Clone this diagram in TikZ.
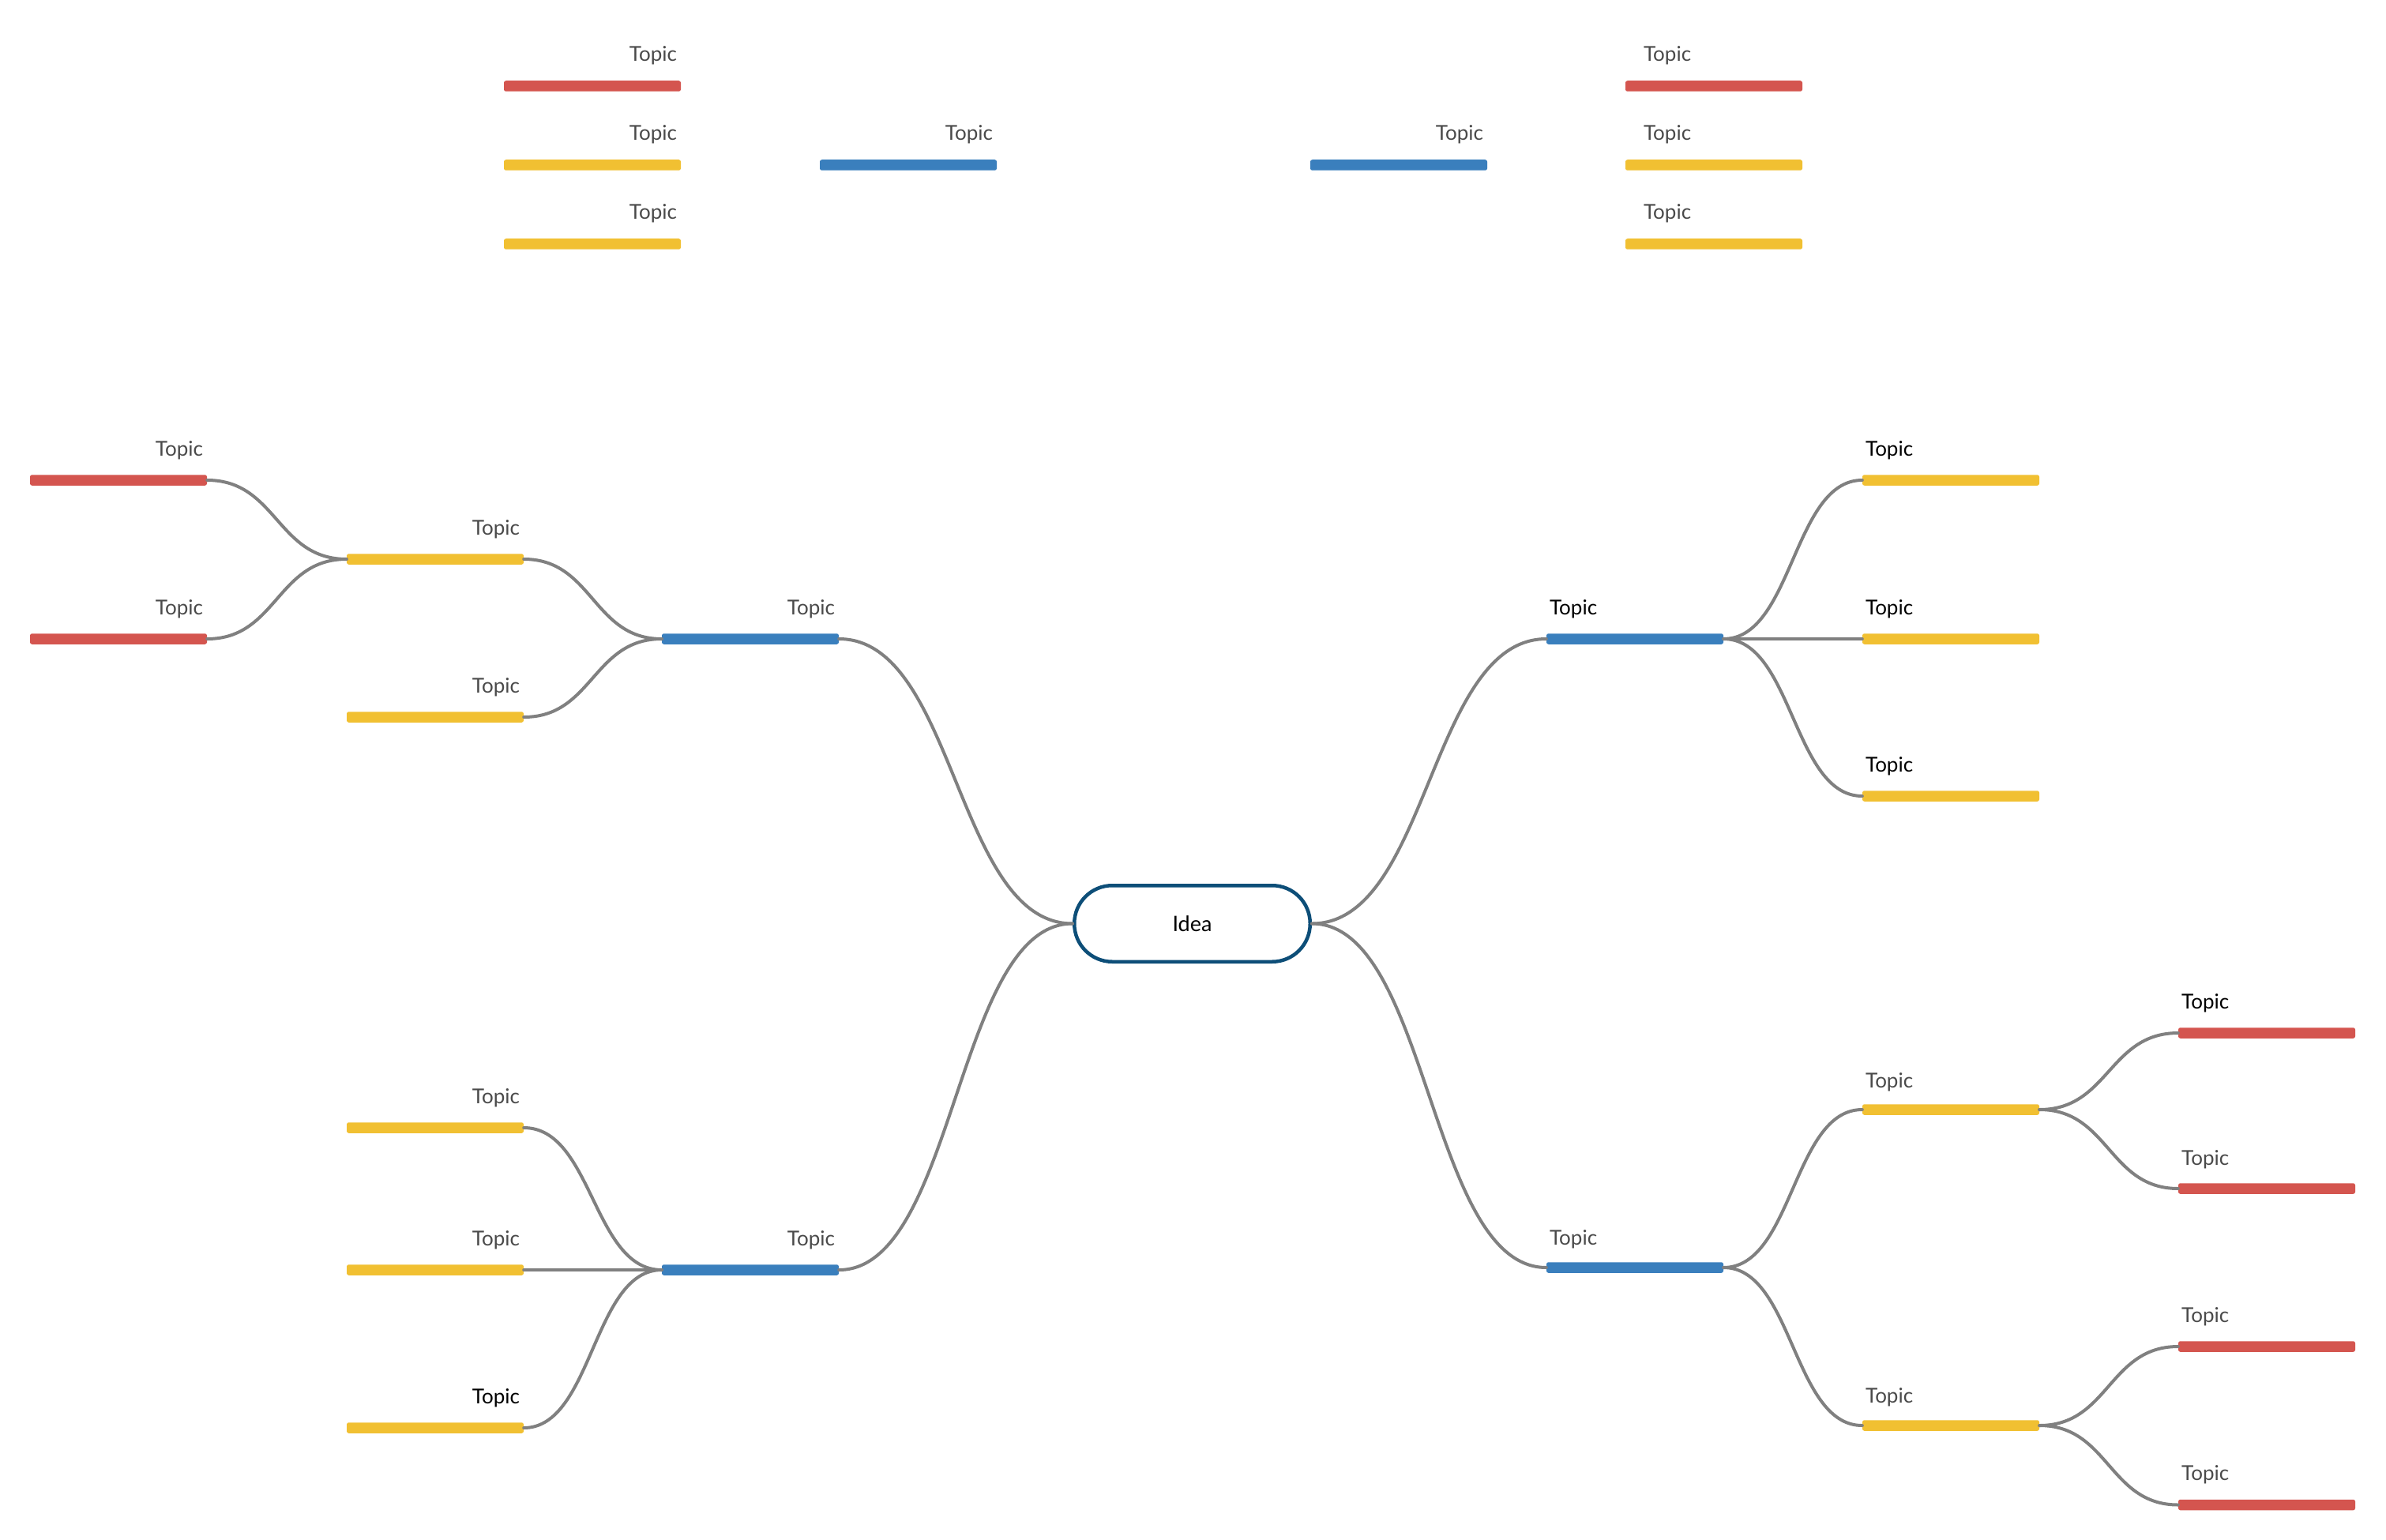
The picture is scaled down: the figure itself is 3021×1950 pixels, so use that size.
\documentclass[tikz,border=0pt]{standalone}
\usepackage{fontspec}
\setmainfont{Lato}
\usetikzlibrary{calc}
\definecolor{tred}{HTML}{D4554F}
\definecolor{tyel}{HTML}{F1C032}
\definecolor{tblue}{HTML}{3A7FBD}
\definecolor{ideab}{HTML}{0D4E78}
\definecolor{tgray}{HTML}{4A4A4A}
\definecolor{lgray}{HTML}{808080}
\newcommand\conn[2]{\draw[link] let \p1=(#1), \p2=(#2) in (\p1) .. controls ({(\x1+\x2)/2},\y1) and ({(\x1+\x2)/2},\y2) .. (\p2);}
\begin{document}
\begin{tikzpicture}[x=1pt,y=-1pt,
  bar/.style={rectangle, minimum width=224pt, minimum height=13.5pt, inner sep=0pt, rounded corners=2.5pt},
  rb/.style={bar, fill=tred},
  yb/.style={bar, fill=tyel},
  bb/.style={bar, fill=tblue},
  lbl/.style={font=\fontsize{26}{30}\selectfont, text=tgray, inner sep=0pt},
  dark/.style={text=black},
  link/.style={draw=lgray, line width=4pt, line cap=round},
  idea/.style={rectangle, draw=ideab, line width=4.5pt, fill=white, rounded corners=48pt, minimum width=298.5pt, minimum height=96.5pt, inner sep=0pt, font=\fontsize{27}{30}\selectfont}]
\useasboundingbox[fill=white] (0,0) rectangle (3021,1950);

% top row
\node[rb] (tr1) at (750,109) {};
\node[yb] (ty1) at (750,209) {};
\node[yb] (ty2) at (750,309) {};
\node[bb] (tb1) at (1150,209) {};
\node[bb] (tb2) at (1771,209) {};
\node[rb] (tr2) at (2170,109) {};
\node[yb] (ty3) at (2170,209) {};
\node[yb] (ty4) at (2170,309) {};

% main tree
\node[idea] (idea) at (1509.5,1169.5) {Idea};
\node[bb] (lu) at (950,809) {};
\node[yb] (luy1) at (551,708) {};
\node[yb] (luy2) at (551,908) {};
\node[rb] (lur1) at (150,608) {};
\node[rb] (lur2) at (150,809) {};
\node[bb] (ll) at (950,1608) {};
\node[yb] (lly1) at (551,1428) {};
\node[yb] (lly2) at (551,1608) {};
\node[yb] (lly3) at (551,1808) {};
\node[bb] (ru) at (2070,809) {};
\node[yb] (ruy1) at (2470,608) {};
\node[yb] (ruy2) at (2470,809) {};
\node[yb] (ruy3) at (2470,1008) {};
\node[bb] (rl) at (2070,1605) {};
\node[yb] (rly1) at (2470,1405) {};
\node[yb] (rly2) at (2470,1805) {};
\node[rb] (rlr1) at (2870,1308) {};
\node[rb] (rlr2) at (2870,1505) {};
\node[rb] (rlr3) at (2870,1705) {};
\node[rb] (rlr4) at (2870,1905.5) {};

% connectors
\conn{idea.west}{lu.east}
\conn{idea.west}{ll.east}
\conn{idea.east}{ru.west}
\conn{idea.east}{rl.west}
\conn{lu.west}{luy1.east}
\conn{lu.west}{luy2.east}
\conn{luy1.west}{lur1.east}
\conn{luy1.west}{lur2.east}
\conn{ll.west}{lly1.east}
\conn{ll.west}{lly2.east}
\conn{ll.west}{lly3.east}
\conn{ru.east}{ruy1.west}
\conn{ru.east}{ruy2.west}
\conn{ru.east}{ruy3.west}
\conn{rl.east}{rly1.west}
\conn{rl.east}{rly2.west}
\conn{rly1.east}{rlr1.west}
\conn{rly1.east}{rlr2.west}
\conn{rly2.east}{rlr3.west}
\conn{rly2.east}{rlr4.west}

% labels: top row
\node[lbl, anchor=base east] (ltr1) at ($(tr1.east)+(-5,-31)$) {Topic};
\node[lbl, anchor=base east] (lty1) at ($(ty1.east)+(-5,-31)$) {Topic};
\node[lbl, anchor=base east] (lty2) at ($(ty2.east)+(-5,-31)$) {Topic};
\node[lbl, anchor=base east] (ltb1) at ($(tb1.east)+(-5,-31)$) {Topic};
\node[lbl, anchor=base east] (ltb2) at ($(tb2.east)+(-5,-31)$) {Topic};
\node[lbl, anchor=base west] (ltr2) at ($(tr2.west)+(23,-31)$) {Topic};
\node[lbl, anchor=base west] (lty3) at ($(ty3.west)+(23,-31)$) {Topic};
\node[lbl, anchor=base west] (lty4) at ($(ty4.west)+(23,-31)$) {Topic};

% labels: left side
\node[lbl, anchor=base east] (llu) at ($(lu.east)+(-5,-31)$) {Topic};
\node[lbl, anchor=base east] (lluy1) at ($(luy1.east)+(-5,-31)$) {Topic};
\node[lbl, anchor=base east] (lluy2) at ($(luy2.east)+(-5,-31)$) {Topic};
\node[lbl, anchor=base east] (llur1) at ($(lur1.east)+(-5,-31)$) {Topic};
\node[lbl, anchor=base east] (llur2) at ($(lur2.east)+(-5,-31)$) {Topic};
\node[lbl, anchor=base east] (lll) at ($(ll.east)+(-5,-31)$) {Topic};
\node[lbl, anchor=base east] (llly1) at ($(lly1.east)+(-5,-31)$) {Topic};
\node[lbl, anchor=base east] (llly2) at ($(lly2.east)+(-5,-31)$) {Topic};
\node[lbl, dark, anchor=base east] (llly3) at ($(lly3.east)+(-5,-31)$) {Topic};

% labels: right side
\node[lbl, dark, anchor=base west] (lru) at ($(ru.west)+(4,-31)$) {Topic};
\node[lbl, dark, anchor=base west] (lruy1) at ($(ruy1.west)+(4,-31)$) {Topic};
\node[lbl, dark, anchor=base west] (lruy2) at ($(ruy2.west)+(4,-31)$) {Topic};
\node[lbl, dark, anchor=base west] (lruy3) at ($(ruy3.west)+(4,-31)$) {Topic};
\node[lbl, anchor=base west] (lrl) at ($(rl.west)+(4,-29)$) {Topic};
\node[lbl, anchor=base west] (lrly1) at ($(rly1.west)+(4,-28)$) {Topic};
\node[lbl, anchor=base west] (lrly2) at ($(rly2.west)+(4,-29)$) {Topic};
\node[lbl, dark, anchor=base west] (lrlr1) at ($(rlr1.west)+(4,-31)$) {Topic};
\node[lbl, anchor=base west] (lrlr2) at ($(rlr2.west)+(4,-30)$) {Topic};
\node[lbl, anchor=base west] (lrlr3) at ($(rlr3.west)+(4,-31)$) {Topic};
\node[lbl, anchor=base west] (lrlr4) at ($(rlr4.west)+(4,-31)$) {Topic};
\end{tikzpicture}
\end{document}
